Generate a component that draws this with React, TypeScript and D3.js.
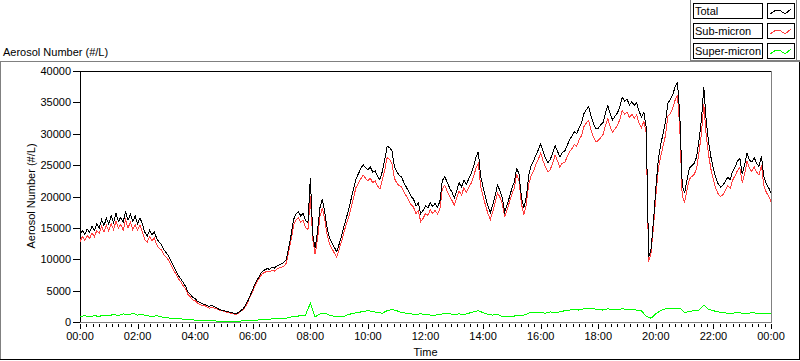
import * as d3 from 'd3';

// Aerosol number concentration over one day (#/L)
// total and sub-micron sampled every 5 minutes, super-micron every 10 minutes
const TOTAL_STEP_MIN = 5;
const SUPER_STEP_MIN = 10;

const total = [
  13800, 14600, 13900, 14800, 14300, 15200, 14600, 15600, 15000, 16300, 15400, 16500,
  15600, 16900, 15800, 17300, 16000, 16700, 15900, 17600, 16200, 17200, 16000, 16900,
  15700, 16600, 15600, 14300, 13700, 14600, 13900, 14300, 13300, 12700, 12300, 11500,
  11000, 10500, 9600, 8900, 8200, 7400, 6900, 6300, 5700, 4800, 4400, 3900,
  3700, 3300, 3100, 2900, 2800, 2600, 2500, 2700, 2400, 2300, 2000, 1900,
  1800, 1700, 1600, 1500, 1400, 1300, 1500, 1800, 2100, 2700, 3400, 4300,
  5200, 6100, 6800, 7500, 8100, 8300, 8500, 8400, 8700, 8600, 8900, 9100,
  9300, 9500, 10000, 11800, 13900, 16300, 17200, 17600, 16900, 17300, 16200, 15800,
  23000, 14000, 11800, 14500, 18200, 19600, 17500, 15000, 13400, 12600, 11900, 11200,
  12400, 13700, 15200, 16600, 17900, 19600, 21200, 22800, 23600, 24400, 25100, 24600,
  24300, 24700, 23900, 24100, 23200, 22700, 24000, 25800, 28000, 27800, 27300, 24800,
  24000, 23400, 23100, 22200, 21500, 20800, 20000, 19600, 18500, 18900, 17300, 17800,
  18500, 18200, 19000, 18400, 18900, 18300, 19200, 22500, 23200, 22300, 21400, 20700,
  19800, 20900, 22200, 21500, 22600, 21900, 22800, 23600, 24700, 26200, 27100, 23200,
  21500, 19900, 18500, 17400, 18600, 20100, 21800, 21000, 19800, 17600, 18700, 19900,
  21300, 22300, 24600, 23500, 19800, 18200, 19900, 23300, 24900, 25600, 26600, 27400,
  28400, 27200, 26100, 25400, 25900, 26900, 28100, 27200, 26300, 27000, 27200, 28100,
  29000, 29600, 30300, 30000, 30900, 31700, 33200, 33800, 34300, 32800, 31600, 30800,
  30900, 31400, 31800, 33300, 34500, 33100, 32200, 32800, 33300, 34300, 35800, 35200,
  35500, 34600, 35100, 34500, 34900, 33600, 32700, 33400, 31000, 10300, 11600, 16000,
  21300, 25800, 28200, 30000, 31800, 34900, 35400, 36200, 37400, 38300, 33000, 21800,
  20600, 22700, 24500, 24900, 25300, 26300, 29000, 32200, 37400, 32000, 28600, 26200,
  24400, 23000, 22000, 21500, 21800, 22400, 23100, 22700, 24000, 24700, 25600, 26100,
  23600, 25000, 26900, 25800, 25500, 26200, 25300, 24800, 26400, 23200, 22000, 21400,
  20600,
];

const subMicron = [
  12800, 13600, 13000, 13800, 13300, 14200, 13600, 14600, 14100, 15300, 14300, 15400,
  14500, 15700, 14700, 16100, 14900, 15600, 14600, 16300, 15000, 15900, 14700, 15500,
  14600, 15500, 14400, 13100, 12700, 13600, 13000, 13400, 12300, 11700, 11500, 10700,
  10300, 9800, 9000, 8300, 7600, 6900, 6400, 5800, 5300, 4400, 4000, 3500,
  3400, 3000, 2800, 2600, 2600, 2400, 2200, 2400, 2200, 2100, 1900, 1800,
  1700, 1600, 1500, 1400, 1300, 1200, 1400, 1700, 1900, 2500, 3200, 4100,
  4900, 5800, 6500, 7200, 7700, 7900, 8100, 8000, 8200, 8100, 8400, 8600,
  8700, 8900, 9400, 11200, 13100, 15400, 16200, 16600, 15900, 16200, 15100, 14700,
  20000, 13200, 10800, 13200, 16800, 18200, 16300, 13900, 12400, 11700, 11000, 10300,
  11600, 12800, 14300, 15600, 16700, 18300, 19800, 21400, 22100, 22800, 23400, 22900,
  22500, 22900, 22200, 22500, 21700, 21200, 22600, 24200, 26200, 25900, 25300, 22900,
  22200, 21700, 21600, 20700, 20100, 19400, 18700, 18300, 17300, 17700, 16000, 16500,
  17300, 17000, 17900, 17300, 17800, 17200, 18000, 21200, 21800, 20900, 20100, 19400,
  18600, 19700, 20900, 20200, 21400, 20600, 21400, 22100, 23100, 24500, 25300, 21500,
  20000, 18600, 17300, 16300, 17500, 19000, 20600, 19900, 18900, 16700, 17900, 19100,
  20400, 21300, 23600, 22500, 18800, 17100, 18700, 21900, 23300, 24000, 25100, 25900,
  26900, 25700, 24700, 23900, 24300, 25300, 26600, 25700, 24700, 25300, 25400, 26300,
  27100, 27600, 28300, 28000, 29000, 29700, 31100, 31700, 32100, 30600, 29500, 28700,
  28900, 29400, 29900, 31300, 32400, 31100, 30200, 30800, 31300, 32300, 33700, 33100,
  33500, 32600, 33100, 32500, 33000, 31700, 30900, 32000, 30100, 9600, 11000, 15100,
  20000, 24300, 26400, 28000, 29700, 32800, 33200, 34000, 35300, 36200, 30800, 20000,
  19100, 21100, 22800, 23200, 23500, 24500, 27100, 30000, 34700, 29700, 26600, 24300,
  22600, 21300, 20400, 20000, 20300, 21000, 21700, 21300, 22600, 23300, 24100, 24600,
  22200, 23600, 25600, 24500, 24000, 24700, 23900, 23400, 25000, 21800, 20700, 20100,
  19200,
];

const superMicron = [
  900, 1000, 800, 1000, 900, 1100,
  1000, 1200, 1000, 1300, 1100, 1400,
  1100, 1200, 1000, 900, 1000, 800,
  700, 600, 600, 500, 400, 400,
  300, 300, 200, 300, 200, 100,
  100, 100, 100, 100, 200, 200,
  300, 300, 400, 400, 500, 500,
  600, 600, 800, 900, 1000, 1100,
  3000, 800, 1300, 1400, 1100, 900,
  800, 900, 1200, 1400, 1500, 1700,
  1800, 1700, 1500, 1400, 1800, 2000,
  1800, 1500, 1400, 1300, 1200, 1300,
  1200, 1100, 1100, 1200, 1400, 1300,
  1200, 1300, 1200, 1400, 1600, 1800,
  1500, 1200, 1100, 1200, 900, 800,
  900, 1000, 1000, 1200, 1600, 1500,
  1500, 1400, 1600, 1500, 1600, 1800,
  1900, 2000, 1900, 2100, 2200, 2100,
  2000, 1900, 2100, 2000, 2000, 2100,
  2000, 2000, 1900, 1800, 900, 600,
  1300, 1800, 2100, 2200, 2100, 2200,
  1500, 1700, 1800, 1900, 2700, 2000,
  1800, 1600, 1500, 1400, 1400, 1500,
  1400, 1300, 1500, 1400, 1400, 1300,
  1400,
];

const yTicks = [0, 5000, 10000, 15000, 20000, 25000, 30000, 35000, 40000];
const xTickLabels = ['00:00', '02:00', '04:00', '06:00', '08:00', '10:00', '12:00',
  '14:00', '16:00', '18:00', '20:00', '22:00', '00:00'];

const legendItems = [
  { name: 'Total', color: '#000000' },
  { name: 'Sub-micron', color: '#ff3f3f' },
  { name: 'Super-micron', color: '#00ff00' },
];

const FONT = '"Liberation Sans", Arial, sans-serif';

export default function App() {
  const width = 800;
  const height = 361;
  const left = 80, right = 771, top = 71, bottom = 322;

  const x = d3.scaleLinear().domain([0, 1440]).range([left, right]);
  const y = d3.scaleLinear().domain([0, 40000]).range([bottom, top]);

  const lineOf = (step: number) =>
    d3.line<number>()
      .x((_, i) => x(i * step))
      .y(d => y(d));

  const majorMinutes = d3.range(0, 1441, 120);
  const minorMinutes = d3.range(0, 1440, 120 / 9).filter(m => m % 120 > 0.5 && m % 120 < 119.5);

  return (
    <svg width={width} height={height}
      style={{ position: 'absolute', left: 0, top: 0, background: '#fff', fontFamily: FONT }}>
      {/* panel frame */}
      <line x1={0} x2={690} y1={61.5} y2={61.5} stroke="#808080" />
      <line x1={0.5} x2={0.5} y1={61} y2={360} stroke="#808080" />
      <line x1={0} x2={800} y1={359.5} y2={359.5} stroke="#000" />
      <line x1={799.5} x2={799.5} y1={62} y2={360} stroke="#000" />

      {/* legend */}
      <line x1={690.5} x2={690.5} y1={0} y2={61} stroke="#808080" />
      <line x1={796.5} x2={796.5} y1={0} y2={61} stroke="#808080" />
      <rect x={690} y={60} width={110} height={2} fill="#808080" />
      {legendItems.map((item, i) => {
        const ty = 3 + i * 20;
        return (
          <g key={item.name}>
            <rect x={693.5} y={ty + 0.5} width={69} height={15} fill="#fff" stroke="#000" />
            <text x={695} y={ty + 12} fontSize={11}>{item.name}</text>
            <rect x={767.5} y={ty + 0.5} width={27} height={15} fill="#fff" stroke="#000" />
            <polyline
              points={[[770, 11], [776, 7], [781, 8], [785, 11], [791, 6]]
                .map(([px, py]) => `${px},${ty + py}`).join(' ')}
              fill="none" stroke={item.color} shapeRendering="crispEdges" />
          </g>
        );
      })}

      {/* top-left scale name */}
      <text x={3} y={56} fontSize={11}>Aerosol Number (#/L)</text>

      {/* plot area frame */}
      <line x1={left} x2={right + 1} y1={top + 0.5} y2={top + 0.5} stroke="#000" />
      <line x1={left + 0.5} x2={left + 0.5} y1={top} y2={bottom + 1} stroke="#000" />
      <line x1={right + 0.5} x2={right + 0.5} y1={top} y2={bottom + 1} stroke="#808080" />
      <line x1={left} x2={right + 1} y1={bottom + 0.5} y2={bottom + 0.5} stroke="#808080" />

      {/* data */}
      <g fill="none" strokeWidth={1} shapeRendering="crispEdges">
        <path d={lineOf(SUPER_STEP_MIN)(superMicron) ?? ''} stroke="#00ff00" />
        <path d={lineOf(TOTAL_STEP_MIN)(subMicron) ?? ''} stroke="#ff3f3f" />
        <path d={lineOf(TOTAL_STEP_MIN)(total) ?? ''} stroke="#000" />
      </g>

      {/* y axis */}
      {yTicks.map(v => (
        <g key={v}>
          <line x1={73} x2={80} y1={Math.round(y(v)) + 0.5} y2={Math.round(y(v)) + 0.5} stroke="#000" />
          <text x={71} y={y(v) + 4} fontSize={11} textAnchor="end">{v}</text>
        </g>
      ))}
      <text transform={`translate(35,196) rotate(-90)`} fontSize={11} textAnchor="middle">
        Aerosol Number (#/L)
      </text>

      {/* x axis */}
      {minorMinutes.map(m => (
        <line key={m} x1={Math.round(x(m)) + 0.5} x2={Math.round(x(m)) + 0.5}
          y1={324} y2={327} stroke="#000" />
      ))}
      {majorMinutes.map((m, i) => (
        <g key={m}>
          <line x1={Math.round(x(m)) + 0.5} x2={Math.round(x(m)) + 0.5} y1={324} y2={329} stroke="#000" />
          <text x={x(m)} y={340} fontSize={11} textAnchor="middle">{xTickLabels[i]}</text>
        </g>
      ))}
      <text x={(left + right) / 2} y={356} fontSize={11} textAnchor="middle">Time</text>
    </svg>
  );
}
